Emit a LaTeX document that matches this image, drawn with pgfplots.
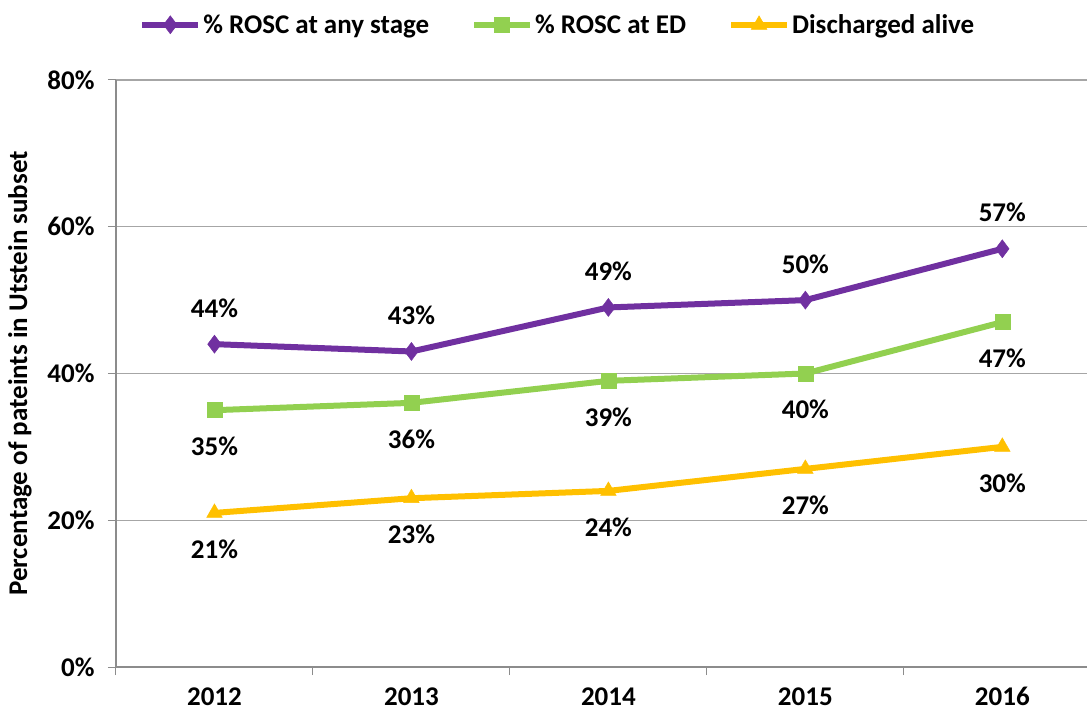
\documentclass[border=0pt]{standalone}
\usepackage{fontspec}
\setmainfont{Carlito}
\usepackage{pgfplots}
\pgfplotsset{compat=1.18}
\definecolor{cpurple}{HTML}{7030A0}
\definecolor{cgreen}{HTML}{92D050}
\definecolor{cgold}{HTML}{FFC000}
\definecolor{axisgray}{HTML}{8C8C8C}
\definecolor{gridgray}{HTML}{A6A6A6}
\newcommand{\lblfont}{\fontsize{27}{32}\selectfont\bfseries}
\begin{document}
\begin{tikzpicture}
\begin{axis}[
  scale only axis, width=971pt, height=587pt,
  xmin=-0.5, xmax=4.43, ymin=0, ymax=80,
  axis x line=bottom, axis y line=left,
  axis line style={-, draw=axisgray, line width=1.3pt},
  xtick={0,1,2,3,4},
  xticklabels={2012,2013,2014,2015,2016},
  major x tick style={draw=none},
  minor xtick={-0.5,0.5,1.5,2.5,3.5},
  minor x tick style={draw=axisgray, line width=1pt},
  minor tick length=8pt,
  major tick length=8pt,
  tick align=outside,
  ytick={0,20,40,60,80},
  yticklabel={\pgfmathprintnumber{\tick}\%},
  ytick style={draw=axisgray, line width=1pt},
  ymajorgrids,
  major grid style={draw=gridgray, line width=1.2pt},
  /pgf/number format/assume math mode=true,
  ticklabel style={font=\lblfont, text=black},
  xticklabel style={yshift=-9pt},
  yticklabel style={xshift=-10pt},
  ylabel={Percentage of pateints in Utstein subset},
  ylabel style={font=\fontsize{27}{32}\selectfont\bfseries, at={(axis description cs:-0.099,0.5)}, anchor=center},
  legend style={at={(axis description cs:0.455,1.094)}, anchor=center, draw=none,
    font=\lblfont, legend columns=3,
    /tikz/every even column/.append style={column sep=40pt},
    nodes={inner sep=2pt}},
  legend image code/.code={\draw[mark repeat=2, mark phase=2, #1] plot coordinates {(0pt,0pt) (28pt,0pt) (56pt,0pt)};},
  clip=false,
  nodes near coords={\pgfmathprintnumber[fixed,precision=0]{\pgfplotspointmeta}\%},
  point meta=y,
]
\addplot[color=cpurple, line width=6pt, mark=diamond*, mark size=9pt, mark options={solid, fill=cpurple, line width=0.5pt},
  every node near coord/.style={font=\lblfont, text=black, anchor=center, yshift=36pt}]
  coordinates {(0,44) (1,43) (2,49) (3,50) (4,57)};
\addlegendentry{\% ROSC at any stage}
\addplot[color=cgreen, line width=6pt, mark=square*, mark size=7.5pt, mark options={solid, fill=cgreen, line width=0.5pt},
  every node near coord/.style={font=\lblfont, text=black, anchor=center, yshift=-36pt}]
  coordinates {(0,35) (1,36) (2,39) (3,40) (4,47)};
\addlegendentry{\% ROSC at ED}
\addplot[color=cgold, line width=6pt, mark=triangle*, mark size=9pt, mark options={solid, fill=cgold, line width=0.5pt},
  every node near coord/.style={font=\lblfont, text=black, anchor=center, yshift=-36pt}]
  coordinates {(0,21) (1,23) (2,24) (3,27) (4,30)};
\addlegendentry{Discharged alive}
\end{axis}
\pgfresetboundingbox
\path (current axis.south west) ++(-116pt,-46pt) rectangle ++(1087pt,713pt);
\end{tikzpicture}
\end{document}
